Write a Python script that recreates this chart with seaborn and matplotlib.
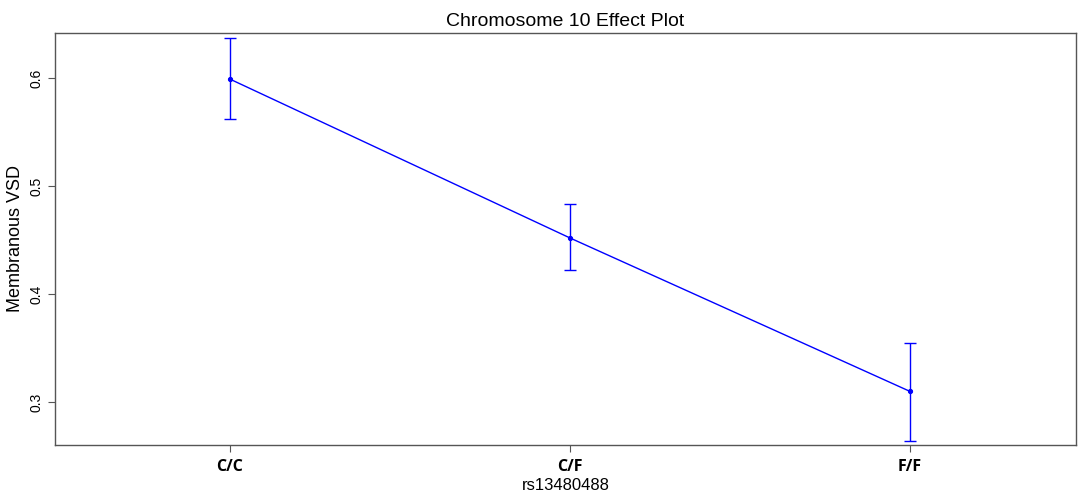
import numpy as np
import pandas as pd
import seaborn as sns
import matplotlib.pyplot as plt

sns.set_style("white")
plt.rcParams['font.family'] = ['Liberation Sans', 'DejaVu Sans']
plt.rcParams['text.color'] = 'black'
plt.rcParams['axes.labelcolor'] = 'black'
plt.rcParams['xtick.color'] = 'black'
plt.rcParams['ytick.color'] = 'black'

genotype = ['C/C', 'C/F', 'F/F']
effect = [0.599, 0.452, 0.310]
lower = [0.562, 0.422, 0.264]
upper = [0.637, 0.483, 0.355]

df = pd.DataFrame({'genotype': genotype, 'effect': effect})

fig = plt.figure(figsize=(10.84, 4.94), dpi=100)
ax = fig.add_axes([0.0507, 0.0992, 0.942, 0.834])

sns.pointplot(data=df, x='genotype', y='effect', errorbar=None,
              color='blue', markersize=3, linewidth=1, ax=ax)
pos = np.arange(len(genotype))
ax.errorbar(pos, effect,
            yerr=[np.subtract(effect, lower), np.subtract(upper, effect)],
            fmt='none', ecolor='blue', elinewidth=1, capsize=4.5, capthick=1)

ax.set_xlim(-0.515, 2.49)
ax.set_ylim(0.2602, 0.6417)
ax.set_yticks([0.3, 0.4, 0.5, 0.6])
ax.set_yticklabels(['0.3', '0.4', '0.5', '0.6'], rotation=90, va='center',
                   fontsize=10)
ax.set_xticks(pos)
ax.set_xticklabels(genotype, fontsize=11.5, fontweight='bold',
                   family=['Open Sans', 'DejaVu Sans'])
ax.tick_params(axis='both', bottom=True, left=True, length=5, width=0.8,
               color='#555555', pad=3)
ax.tick_params(axis='x', pad=5)
for s in ax.spines.values():
    s.set_color('#555555')
    s.set_linewidth(1)

ax.set_title('Chromosome 10 Effect Plot', fontsize=14, pad=5)
ax.set_xlabel('rs13480488', fontsize=12, labelpad=2)
ax.set_ylabel('Membranous VSD', fontsize=13, labelpad=4)

plt.savefig('out.png', dpi=100)
